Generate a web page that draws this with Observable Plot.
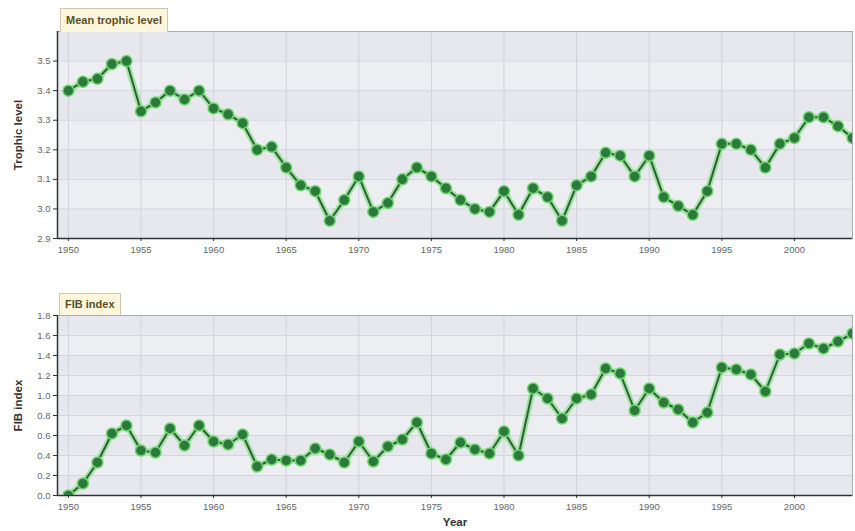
<!DOCTYPE html>
<html>
<head>
<meta charset="utf-8">
<script src="https://cdn.jsdelivr.net/npm/d3@7"></script>
<script src="https://cdn.jsdelivr.net/npm/@observablehq/plot@0.6"></script>
<style>
  body { margin: 0; background: #fff; font-family: "Liberation Sans", Arial, sans-serif; }
  #wrap { position: relative; width: 855px; height: 531px; }
  #wrap svg { display: block; }
  .tag {
    position: absolute; box-sizing: border-box;
    background: #fcf7dc; border: 1px solid #cfc7a6; border-bottom: none;
    color: #5b4f1f; font-weight: bold; font-size: 11px; line-height: 22px;
    padding: 0 5px; white-space: nowrap;
  }
  g[aria-label="y-axis label"] text, g[aria-label="x-axis label"] text {
    font-weight: bold; fill: #333; font-size: 11.5px;
  }
</style>
</head>
<body>
<div id="wrap">
  <div class="tag" style="left:60px;top:8px;height:24px;">Mean trophic level</div>
  <div class="tag" style="left:59px;top:293px;height:22px;line-height:21px;">FIB index</div>
</div>
<script>
// Years covered by both series
const years = d3.range(1950, 2005);

// Mean trophic level of the catch, 1950–2004
const trophicLevel = [
  3.40, 3.43, 3.44, 3.49, 3.50, 3.33, 3.36, 3.40, 3.37, 3.40,
  3.34, 3.32, 3.29, 3.20, 3.21, 3.14, 3.08, 3.06, 2.96, 3.03,
  3.11, 2.99, 3.02, 3.10, 3.14, 3.11, 3.07, 3.03, 3.00, 2.99,
  3.06, 2.98, 3.07, 3.04, 2.96, 3.08, 3.11, 3.19, 3.18, 3.11,
  3.18, 3.04, 3.01, 2.98, 3.06, 3.22, 3.22, 3.20, 3.14, 3.22,
  3.24, 3.31, 3.31, 3.28, 3.24
];

// Fishing-in-balance index, 1950–2004
const fibIndex = [
  0.00, 0.12, 0.33, 0.62, 0.70, 0.45, 0.43, 0.67, 0.50, 0.70,
  0.54, 0.51, 0.61, 0.29, 0.36, 0.35, 0.35, 0.47, 0.41, 0.33,
  0.54, 0.34, 0.49, 0.56, 0.73, 0.42, 0.36, 0.53, 0.46, 0.42,
  0.64, 0.40, 1.07, 0.97, 0.77, 0.97, 1.01, 1.27, 1.22, 0.85,
  1.07, 0.93, 0.86, 0.73, 0.83, 1.28, 1.26, 1.21, 1.04, 1.41,
  1.42, 1.52, 1.47, 1.54, 1.62
];

// Tick labels
const yearTicks = d3.range(1950, 2005, 5);
const trophicTicks = [2.9, 3.0, 3.1, 3.2, 3.3, 3.4, 3.5];
const fibTicks = [0.0, 0.2, 0.4, 0.6, 0.8, 1.0, 1.2, 1.4, 1.6, 1.8];

const xDomain = [1949.25, 2004];

function panel({values, yDomain, yTicks, yLabel, xLabel, height, marginTop, marginBottom}) {
  const data = years.map((year, i) => ({year, value: values[i]}));
  const edges = [...yTicks, yDomain[1]].filter((v, i, a) => a.indexOf(v) === i);
  const bands = d3.pairs(edges).map(([lo, hi], i) => ({lo, hi, i}));
  return Plot.plot({
    width: 855,
    height,
    marginLeft: 57,
    marginRight: 3,
    marginTop,
    marginBottom,
    style: {fontFamily: "'Liberation Sans', Arial, sans-serif", fontSize: "9.5px", color: "#666", background: "transparent"},
    x: {domain: xDomain},
    y: {domain: yDomain},
    marks: [
      Plot.rect(bands, {y1: "lo", y2: "hi", fill: d => d.i % 2 ? "#eceef2" : "#e6e8ed"}),
      Plot.gridX(yearTicks, {stroke: "#cfd3db", strokeOpacity: 1, strokeWidth: 1}),
      Plot.gridY(yTicks, {stroke: "#d3d6dd", strokeOpacity: 1, strokeWidth: 1}),
      Plot.frame({stroke: "#a9acb2"}),
      Plot.axisY(yTicks, {
        tickFormat: ".1f", tickSize: 4, tickPadding: 3, stroke: "#333",
        label: yLabel, labelAnchor: "center", labelArrow: "none", labelOffset: 44
      }),
      Plot.axisX(yearTicks, {
        tickFormat: "d", tickSize: 3, tickPadding: 5, stroke: "#333",
        label: xLabel, labelAnchor: "center", labelArrow: "none", labelOffset: 30
      }),
      Plot.ruleX([xDomain[0]], {stroke: "#333", strokeWidth: 1.5}),
      Plot.ruleY([yDomain[0]], {stroke: "#333", strokeWidth: 1.5}),
      // soft green halo under the series
      Plot.line(data, {x: "year", y: "value", stroke: "#7fe07f", strokeWidth: 6, strokeOpacity: 0.7, clip: true}),
      Plot.line(data, {x: "year", y: "value", stroke: "#2f5f36", strokeWidth: 2, clip: true}),
      Plot.dot(data, {x: "year", y: "value", r: 5.5, fill: "#2c7a3b", stroke: "#6fd66f", strokeWidth: 1.5, clip: true})
    ]
  });
}

const wrap = document.getElementById("wrap");
wrap.prepend(
  panel({values: trophicLevel, yDomain: [2.9, 3.6], yTicks: trophicTicks, yLabel: "Trophic level", xLabel: null,
         height: 265, marginTop: 31, marginBottom: 27}),
  panel({values: fibIndex, yDomain: [0, 1.8], yTicks: fibTicks, yLabel: "FIB index", xLabel: "Year",
         height: 266, marginTop: 50, marginBottom: 36})
);
</script>
</body>
</html>
